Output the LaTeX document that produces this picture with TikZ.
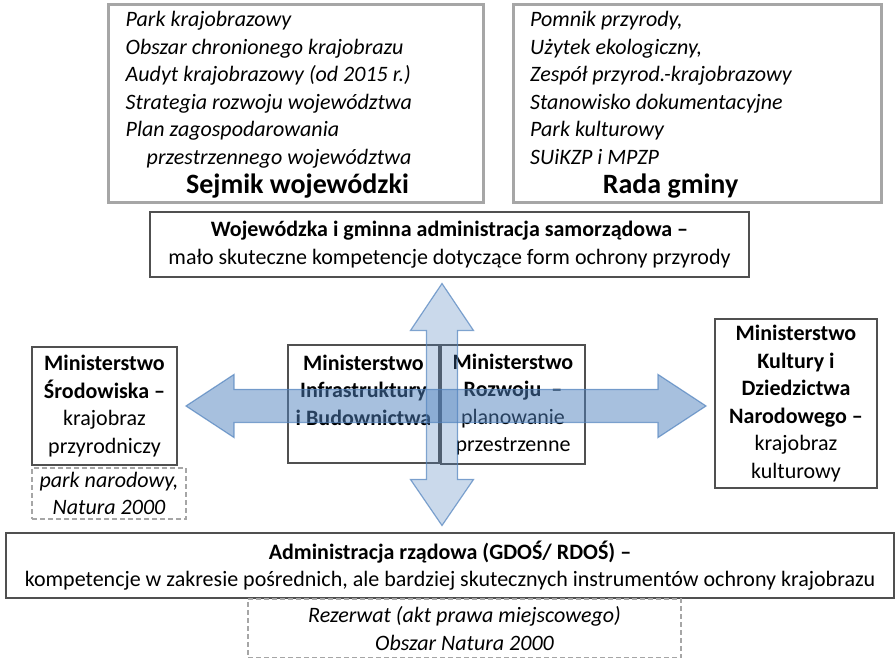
\documentclass[tikz,border=0pt]{standalone}
\usepackage{fontspec}
\setmainfont{Carlito}
\usetikzlibrary{calc}
\definecolor{ramkaSzara}{RGB}{166,166,166}
\definecolor{ramkaCiemna}{RGB}{80,80,80}
\definecolor{niebieski}{RGB}{79,129,189}
\newcommand{\tekst}{\fontsize{22}{27.5}\selectfont}
\tikzstyle{szara}=[draw=ramkaSzara, line width=3pt, inner sep=0pt]
\tikzstyle{urzad}=[draw=ramkaCiemna, line width=2pt, align=center,
	font=\tekst, inner sep=0pt]
\tikzstyle{przerywana}=[draw=ramkaSzara, line width=1.5pt,
	dash pattern=on 5pt off 3pt, align=center, font=\tekst\itshape, inner sep=0pt]
\tikzstyle{lista}=[align=left, font=\tekst\itshape, inner sep=0pt, anchor=north west]
\tikzstyle{tytul}=[font=\fontsize{28}{34}\selectfont\bfseries, inner sep=0pt, anchor=base]
\tikzstyle{poziom}=[draw=niebieski, draw opacity=0.7, line width=1.2pt,
	fill=niebieski, fill opacity=0.5]
\tikzstyle{pion}=[poziom, fill opacity=0.3]
\newcommand{\ramka}[3]{node (#1) [#2]
	{#3}}

\begin{document}
\begin{tikzpicture}[x=1pt,y=1pt]
	\useasboundingbox (0,0) rectangle (895,658);

	% Top: formy ochrony
	\path (295.5,554) \ramka{sejmik}{szara, minimum width=375pt, minimum height=198pt}{};
	\path (sejmik.east)+(213,0) \ramka{rada}{szara, minimum width=368pt, minimum height=198pt}{};
	\path (sejmik.north west)+(19,-8) node (sejmikLista) [lista]
		{Park krajobrazowy\\ Obszar chronionego krajobrazu\\ Audyt krajobrazowy (od 2015 r.)\\
		 Strategia rozwoju województwa\\ Plan zagospodarowania\\ \hspace*{21pt}przestrzennego województwa};
	\path (sejmik.south)+(2,11) node (sejmikTytul) [tytul] {Sejmik wojewódzki};
	\path (rada.north west)+(18,-8) node (radaLista) [lista]
		{Pomnik przyrody,\\ Użytek ekologiczny,\\ Zespół przyrod.-krajobrazowy\\
		 Stanowisko dokumentacyjne\\ Park kulturowy\\ SUiKZP i MPZP};
	\path (rada.south)+(-27,11) node (radaTytul) [tytul] {Rada gminy};

	\path (449.5,413.5) \ramka{woj}{urzad, minimum width=599pt, minimum height=65pt}
		{\textbf{Wojewódzka i gminna administracja samorządowa –}\\ mało skuteczne kompetencje dotyczące form ochrony przyrody};

	% Ministerstwa
	\path (104.5,252) \ramka{msrod}{urzad, minimum width=145pt, minimum height=118pt}
		{\textbf{Ministerstwo}\\ \textbf{Środowiska –}\\ krajobraz\\ przyrodniczy};
	\path (msrod.south)+(4.5,-27.5) \ramka{srodForma}{przerywana, minimum width=154pt, minimum height=51pt}
		{park narodowy,\\ Natura 2000};
	\path (363.5,254) \ramka{minfra}{urzad, minimum width=151pt, minimum height=118pt}
		{\textbf{Ministerstwo}\\ \textbf{Infrastruktury}\\ \textbf{i Budownictwa}\\ \mbox{}};
	\path (minfra.east)+(73,-0.5) \ramka{mrozw}{urzad, minimum width=144pt, minimum height=119pt}
		{\textbf{Ministerstwo}\\ \textbf{Rozwoju\ \ –}\\ planowanie\\ przestrzenne};
	\path (796,254.5) \ramka{mkult}{urzad, minimum width=162pt, minimum height=169pt}
		{\textbf{Ministerstwo}\\ \textbf{Kultury i}\\ \textbf{Dziedzictwa}\\ \textbf{Narodowego –}\\ krajobraz\\ kulturowy};

	% Bottom
	\path (450,92.5) \ramka{admin}{urzad, minimum width=888pt, minimum height=65pt}
		{\textbf{Administracja rządowa (GDOŚ/ RDOŚ) –}\\ kompetencje w zakresie pośrednich, ale bardziej skutecznych instrumentów ochrony krajobrazu};
	\path (admin.south)+(14.5,-29.5) \ramka{adminForma}{przerywana, minimum width=433pt, minimum height=59pt}
		{Rezerwat (akt prawa miejscowego)\\ Obszar Natura 2000};

	% Draw arrows between elements
	\coordinate (lewy) at ($(msrod.east)+(8,0)$);
	\coordinate (prawy) at ($(mkult.west |- msrod.east)+(-8,0)$);
	\path [poziom] (lewy) -- ++(48,31.5) -- ++(0,-15) -- ($(prawy)+(-48,16.5)$) -- ++(0,15)
		-- (prawy) -- ++(-48,-31.5) -- ++(0,15) -- ($(lewy)+(48,-16.5)$) -- ++(0,-15) -- cycle;

	\coordinate (gora) at ($(woj.south -| mrozw.west)+(2,-5.5)$);
	\coordinate (dol) at ($(admin.north -| gora)+(0,6.5)$);
	\path [pion] (gora) -- ++(31.5,-47) -- ++(-16,0) -- ($(dol)+(15.5,46)$) -- ++(16,0)
		-- (dol) -- ++(-31.5,46) -- ++(16,0) -- ($(gora)+(-15.5,-47)$) -- ++(-16,0) -- cycle;

\end{tikzpicture}
\end{document}
